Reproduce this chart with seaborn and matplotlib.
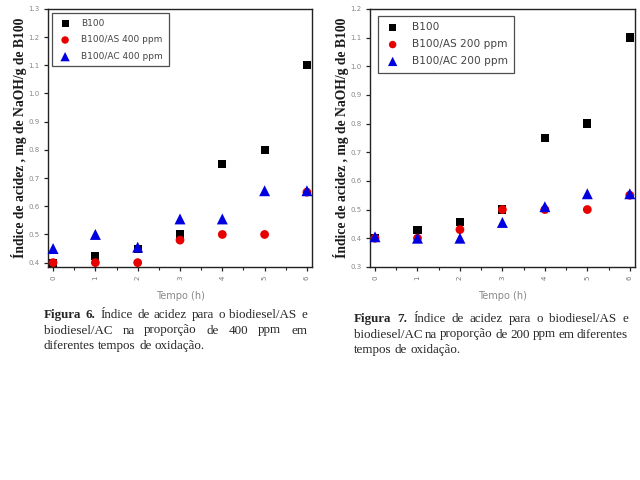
import matplotlib
matplotlib.use("Agg")
import matplotlib.pyplot as plt
import seaborn as sns
import pandas as pd
from matplotlib.ticker import MultipleLocator

sns.set_style("white")
plt.rcParams['font.family'] = ['DejaVu Sans']

tempo = [0, 1, 2, 3, 4, 5, 6]

# Figura 6 (400 ppm)
b100_6 = [0.40, 0.425, 0.45, 0.50, 0.75, 0.80, 1.10]
as400 = [0.40, 0.40, 0.40, 0.48, 0.50, 0.50, 0.65]
ac400 = [0.45, 0.50, 0.455, 0.555, 0.555, 0.655, 0.655]
labels6 = ["B100", "B100/AS 400 ppm", "B100/AC 400 ppm"]

# Figura 7 (200 ppm)
b100_7 = [0.40, 0.43, 0.455, 0.50, 0.75, 0.80, 1.10]
as200 = [0.40, 0.40, 0.43, 0.50, 0.50, 0.50, 0.55]
ac200 = [0.405, 0.40, 0.40, 0.455, 0.51, 0.555, 0.555]
labels7 = ["B100", "B100/AS 200 ppm", "B100/AC 200 ppm"]

ylabel = "Índice de acidez , mg de NaOH/g de B100"
xlabel = "Tempo (h)"

cap6_bold = "Figura 6."
cap6 = ["Índice de acidez para o biodiesel/AS e",
        "biodiesel/AC na proporção de 400 ppm em",
        "diferentes tempos de oxidação."]
cap7_bold = "Figura 7."
cap7 = ["Índice de acidez para o biodiesel/AS e",
        "biodiesel/AC na proporção de 200 ppm em diferentes",
        "tempos de oxidação."]

colors = ["#000000", "#e60000", "#0000e0"]
markers = ["s", "o", "^"]
sizes = [34, 40, 62]

fig = plt.figure(figsize=(6.4, 4.8), dpi=100)

def panel(rect, series, labels, ylim, yticks, leg_fs, anchor, lspace):
    ax = fig.add_axes(rect)
    rows = []
    for lab, vals in zip(labels, series):
        for t, v in zip(tempo, vals):
            rows.append({"Tempo": t, "valor": v, "serie": lab})
    df = pd.DataFrame(rows)
    for lab, c, m, s in zip(labels, colors, markers, sizes):
        sub = df[df["serie"] == lab]
        sns.scatterplot(data=sub, x="Tempo", y="valor", color=c, marker=m,
                        s=s, edgecolor="none", label=lab, ax=ax, zorder=3,
                        clip_on=False)
    ax.set_xlim(-0.12, 6.12)
    ax.set_ylim(*ylim)
    ax.set_yticks(yticks)
    ax.set_yticklabels([f"{v:.1f}" for v in yticks], fontsize=5, color="#888888")
    ax.set_xticks(tempo)
    ax.set_xticklabels([str(t) for t in tempo], fontsize=5, color="#777777", rotation=90)
    ax.xaxis.set_minor_locator(MultipleLocator(0.5))
    ax.tick_params(axis="both", which="major", direction="out", length=3, width=0.9,
                   color="#222222", pad=3)
    ax.tick_params(axis="x", which="minor", direction="out", length=2, width=0.8,
                   color="#222222", bottom=True)
    ax.tick_params(axis="x", which="both", bottom=True)
    ax.tick_params(axis="y", which="both", left=True)
    ax.set_xlabel(xlabel, fontsize=7, color="#888888", labelpad=8)
    ax.set_ylabel(ylabel, fontsize=9.8, fontweight="bold", family="Liberation Serif",
                  color="#1a1a1a", labelpad=1)
    for sp in ax.spines.values():
        sp.set_color("#222222")
        sp.set_linewidth(1.0)
    leg = ax.legend(loc="upper left", bbox_to_anchor=anchor, fontsize=leg_fs,
                    frameon=True, fancybox=False, edgecolor="#222222",
                    handletextpad=1.0, borderpad=0.6, labelspacing=lspace,
                    markerscale=0.85, handlelength=1.6, borderaxespad=0.2)
    leg.get_frame().set_linewidth(0.9)
    for t in leg.get_texts():
        t.set_color("#444444")
    return ax

ax1 = panel([0.075, 0.444, 0.4125, 0.5375], [b100_6, as400, ac400], labels6,
            (0.385, 1.3), [0.4, 0.5, 0.6, 0.7, 0.8, 0.9, 1.0, 1.1, 1.2, 1.3], 6.5,
            (0.01, 0.99), 0.85)
ax2 = panel([0.578, 0.444, 0.414, 0.5375], [b100_7, as200, ac200], labels7,
            (0.3, 1.2), [0.3, 0.4, 0.5, 0.6, 0.7, 0.8, 0.9, 1.0, 1.1, 1.2], 7.6,
            (0.022, 0.98), 0.65)

fig.canvas.draw()
renderer = fig.canvas.get_renderer()

CAP_FS = 9.4

def text_width(s, bold=False):
    t = fig.text(0, 0, s, fontsize=CAP_FS, family="Liberation Serif",
                 fontweight="bold" if bold else "normal")
    w = t.get_window_extent(renderer).width
    t.remove()
    return w

def place_line(x0, x1, y, words, justify):
    arts = []
    for w, b in words:
        t = fig.text(0, y, w, fontsize=CAP_FS, family="Liberation Serif",
                     fontweight="bold" if b else "normal", va="top")
        arts.append(t)
    widths = [a.get_window_extent(renderer).width for a in arts]
    space = text_width("a a") - text_width("aa")
    n = len(words)
    if justify and n > 1:
        gap = max(((x1 - x0) - sum(widths)) / (n - 1), 0.6 * space)
    else:
        gap = space
    x = x0
    for a, w in zip(arts, widths):
        a.set_x(x / 640)
        x += w + gap

def caption(x0, x1, ytop, bold, lines, lh=15.5):
    for i, ln in enumerate(lines):
        words = [(w, False) for w in ln.split()]
        if i == 0:
            words = [(w, True) for w in bold.split()] + words
        justify = i < len(lines) - 1
        place_line(x0, x1, 1 - (ytop + i * lh) / 480, words, justify)

caption(44, 307, 309, cap6_bold, cap6)
caption(354, 628, 313, cap7_bold, cap7)

fig.savefig("out.png", dpi=100)
